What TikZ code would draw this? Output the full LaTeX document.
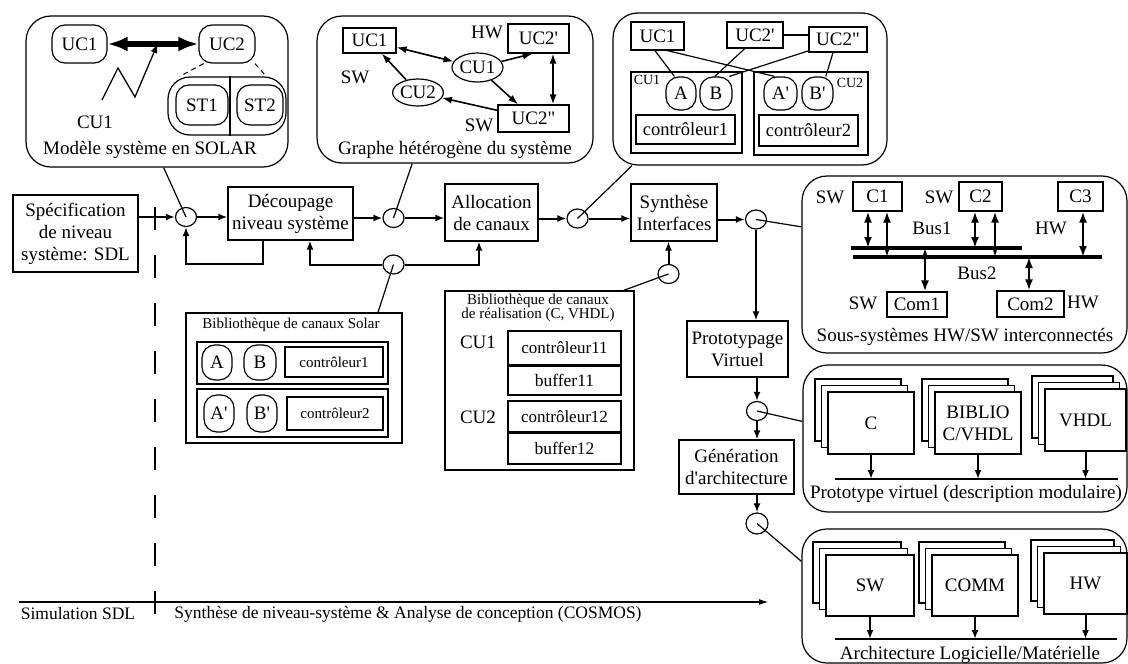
\documentclass[tikz,border=0pt]{standalone}
\usepackage{fontspec}
\setmainfont{Liberation Serif}[Ligatures=TeXOff]
\usetikzlibrary{arrows.meta,shapes.geometric,calc}
\tikzset{
  boite/.style={draw, inner sep=0pt, align=center},
  bulle/.style={draw, rounded corners=13pt, inner sep=0pt},
  rond/.style={draw, ellipse, inner sep=0pt, minimum width=21pt, minimum height=19pt},
  cadre/.style={draw, rounded corners=25pt, inner sep=0pt},
  fleche/.style={line width=2pt, ->},
  fl/.style={line width=1.6pt, >={Latex[length=10pt,width=7pt]}},
  dfl/.style={line width=2pt, >={Latex[length=11pt,width=8pt]}, <->},
  bus/.style={line width=3.5pt},
  petit/.style={font=\fontsize{15}{13}\selectfont},
  mini/.style={font=\fontsize{14}{14}\selectfont}
}
\begin{document}
\begin{tikzpicture}[x=1pt, y=-1pt, line width=1.2pt, >={Latex[length=9pt,width=7pt]},
  font=\fontsize{19}{22}\selectfont]
\useasboundingbox (0,0) rectangle (1128,664);

% modele SOLAR
\node[cadre, minimum width=262, minimum height=151] (solar) at (157,91.5) {};
\node[bulle, minimum width=55, minimum height=38] (uc1) at (79.5,44) {UC1};
\node[bulle, minimum width=56, minimum height=38] (uc2) at (227,44) {UC2};
\node[draw, rounded corners=22pt, inner sep=0pt, minimum width=118, minimum height=58] (st) at (227,106) {};
\draw ([xshift=3pt]st.north) -- ([xshift=3pt]st.south);
\node[bulle, minimum width=52, minimum height=40] (st1) at (202,105) {ST1};
\node[bulle, minimum width=46, minimum height=40] (st2) at (260,105) {ST2};
\draw[line width=5.5pt, {Latex[length=20pt,width=15pt]}-{Latex[length=20pt,width=15pt]}] (uc1) -- (uc2);
\node (cu1) at (95,122) {CU1};
\coordinate (zz) at (102,100);
\draw[line width=1.3pt, ->] (zz) -- (118,68) -- (135,97) -- ($(uc1.east)!0.55!(uc2.west)$);
\draw[line width=1pt, dash pattern=on 5pt off 4pt] (uc2.-140) -- (st.148) (uc2.-35) -- (st.37);
\node at (150,150) {Modèle système en SOLAR};

% graphe heterogene
\node[cadre, minimum width=276, minimum height=147] (graphe) at (455,89.5) {};
\node[boite, minimum width=53, minimum height=25] (g1) at (369.5,40.5) {UC1};
\node[boite, minimum width=61, minimum height=29] (g2p) at (538.5,38.5) {UC2'};
\node[boite, minimum width=71, minimum height=27] (g2pp) at (533.5,118.5) {UC2"};
\node[draw, ellipse, inner sep=0pt, minimum width=51, minimum height=29] (gcu1) at (477.5,67.5) {CU1};
\node[draw, ellipse, inner sep=0pt, minimum width=50, minimum height=27] (gcu2) at (418,92.5) {CU2};
\node at (487,32) {HW};
\node at (355,77) {SW};
\node at (479,125) {SW};
\draw[fl,<->] (g1) -- (gcu1);
\draw[fl,->] (gcu1) -- (g2p.-111);
\draw[fl,->] (gcu1) -- (g2pp);
\draw[fl,<->] ([xshift=14.5pt]g2p.south) -- ([xshift=14.5pt]g2p.south |- g2pp.north);
\draw[fl,->] (g2pp) -- (gcu2);
\draw[fl,->] (gcu2) -- (g1);
\node at (455,150) {Graphe hétérogène du système};

% allocation des canaux
\node[cadre, minimum width=274, minimum height=152] (canaux) at (750,89) {};
\node[boite, minimum width=53, minimum height=28] (k1) at (657.5,36) {UC1};
\node[boite, minimum width=56, minimum height=26] (k2p) at (755,35) {UC2'};
\node[boite, minimum width=58, minimum height=25] (k2pp) at (838,39.5) {UC2"};
\draw[line width=1.8pt] (k2p) -- (k2p -| k2pp.west);
\node[boite, minimum width=111, minimum height=81] (kcu1) at (686.5,112.5) {};
\node[boite, minimum width=114, minimum height=83] (kcu2) at (811,113.5) {};
\node[mini] at (647,80) {CU1};
\node[mini] at (850,83) {CU2};
\node[bulle, minimum width=30, minimum height=33] (ka) at (681,93.5) {A};
\node[bulle, minimum width=32, minimum height=33] (kb) at (716,93.5) {B};
\node[bulle, minimum width=33, minimum height=33] (kap) at (780.5,93.5) {A'};
\node[bulle, minimum width=31, minimum height=33] (kbp) at (817.5,93.5) {B'};
\node[boite, minimum width=99, minimum height=29, font=\fontsize{18.5}{20}\selectfont] (kc1) at (685.5,129.5) {contrôleur1};
\node[boite, minimum width=99, minimum height=31, font=\fontsize{18.5}{20}\selectfont] (kc2) at (808.5,130.5) {contrôleur2};
\draw (k1.-100) -- (ka.111);
\draw (k1.-56) -- (kap.109.5);
\draw (k2p.-127.6) -- (kb.94);
\draw (k2pp.-159.4) -- (kb.52.8);
\draw (k2pp.-111.8) -- (kbp.64);

% flot de conception
\node[boite, minimum width=125, minimum height=77] (spec) at (75.5,233.5) {Spécification\\de niveau\\système: SDL};
\node[boite, minimum width=125, minimum height=53] (decoup) at (290.5,213.5) {Découpage\\niveau système};
\node[boite, minimum width=93, minimum height=57] (alloc) at (491.5,212.5) {Allocation\\de canaux};
\node[boite, minimum width=86, minimum height=57] (synth) at (674,212.5) {Synthèse\\Interfaces};
\node[boite, minimum width=101, minimum height=56] (proto) at (737.5,349) {Prototypage\\Virtuel};
\node[boite, minimum width=115, minimum height=54] (gen) at (736.5,467) {Génération\\d'architecture};
\node[rond] (r1) at (186,217) {};
\node[rond] (r2) at (393.5,218) {};
\node[rond] (r3) at (577.5,218.5) {};
\node[rond] (r4) at (756,219.5) {};
\node[rond] (r5) at (393.5,264.5) {};
\node[rond] (r6) at (668.5,274) {};
\node[rond] (r7) at (757,411) {};
\node[rond, minimum width=22pt, minimum height=21pt] (r8) at (757,523.5) {};
\draw[fleche] (spec.east |- r1) -- (r1);
\draw[fleche] (r1) -- (r1 -| decoup.west);
\draw[fleche] ([xshift=-27.5pt]decoup.south) -- ++(0,23) -| (r1.south);
\draw[fleche] (decoup.east |- r2) -- (r2);
\draw[fleche] (r2) -- (r2 -| alloc.west);
\draw[fleche] (r5) -| ([xshift=19.5pt]decoup.south);
\draw[fleche] (r5) -| ([xshift=-12.5pt]alloc.south);
\draw[fleche] (alloc.east |- r3) -- (r3);
\draw[fleche] (r3) -- (r3 -| synth.west);
\draw[fleche] (synth.east |- r4) -- (r4);
\draw[fleche] (r6) -- (r6 |- synth.south);
\draw[fleche] (r4) -- (r4 |- proto.north);
\draw[fleche] (proto.south -| r7) -- (r7);
\draw[fleche] (r7) -- (r7 |- gen.north);
\draw[fleche] (gen.south -| r8) -- (r8);

% bibliotheque Solar
\node[boite, minimum width=216, minimum height=130] (libsolar) at (294,378) {};
\node[petit] at (291,325) {Bibliothèque de canaux Solar};
\node[boite, minimum width=191, minimum height=42] (ls1) at (292.5,363) {};
\node[boite, minimum width=191, minimum height=48] (ls2) at (292.5,413) {};
\node[bulle, minimum width=30, minimum height=35] (la) at (217,362.5) {A};
\node[bulle, minimum width=32, minimum height=35] (lb) at (260,362.5) {B};
\node[boite, petit, minimum width=98, minimum height=30] (lc1) at (334,362) {contrôleur1};
\node[bulle, minimum width=30, minimum height=37] (lap) at (219,413.5) {A'};
\node[bulle, minimum width=30, minimum height=37] (lbp) at (262,413.5) {B'};
\node[boite, petit, minimum width=96, minimum height=33] (lc2) at (335,413.5) {contrôleur2};

% bibliotheque de realisation
\node[boite, minimum width=189, minimum height=179] (libreal) at (539.5,380.5) {};
\node[petit, align=center] at (538,308) {Bibliothèque de canaux\\de réalisation (C, VHDL)};
\node at (478,342) {CU1};
\node at (478,417) {CU2};
\node[boite, minimum width=113, minimum height=34, font=\fontsize{17}{20}\selectfont] (rc11) at (564.5,348) {contrôleur11};
\node[boite, minimum width=113, minimum height=30, font=\fontsize{17.5}{20}\selectfont] (rb11) at (564.5,380) {buffer11};
\node[boite, minimum width=113, minimum height=31, font=\fontsize{17}{20}\selectfont] (rc12) at (564.5,416.5) {contrôleur12};
\node[boite, minimum width=113, minimum height=32, font=\fontsize{17.5}{20}\selectfont] (rb12) at (564.5,448) {buffer12};
\draw[line width=2pt] (rc11.south west) -- (rc11.south east);
\draw[line width=2pt] (rc12.south west) -- (rc12.south east);

% sous-systemes
\node[cadre, minimum width=325, minimum height=177] (soussys) at (964.5,264.5) {};
\node[boite, minimum width=49, minimum height=29] (sc1) at (877.5,196.5) {C1};
\node[boite, minimum width=43, minimum height=29] (sc2) at (980.5,196.5) {C2};
\node[boite, minimum width=45, minimum height=29] (sc3) at (1080.5,196.5) {C3};
\node[boite, minimum width=60, minimum height=25] (com1) at (917,304.5) {Com1};
\node[boite, minimum width=67, minimum height=26] (com2) at (1030.5,304) {Com2};
\node at (830,197) {SW};
\node at (939,197) {SW};
\node at (1051,228) {HW};
\node at (863,303) {SW};
\node at (1083,302) {HW};
\node at (932,228) {Bus1};
\node at (977,273) {Bus2};
\coordinate (b1a) at (851,248); \coordinate (b1b) at (1022,248);
\coordinate (b2a) at (853,257); \coordinate (b2b) at (1102,257);
\draw[bus] (b1a) -- (b1b);
\draw[bus] (b2a) -- (b2b);
\foreach \n/\dx/\b in {sc1/-9.5/b1a, sc1/9.5/b2a, sc2/-5.5/b1a, sc2/14.5/b2a, sc3/2.5/b2a}
  \draw[dfl] ([xshift=\dx]\n.south) -- ([xshift=\dx]\n.south |- \b);
\draw[dfl] ([xshift=8pt]com1.north) -- ([xshift=8pt]com1.north |- b1a);
\draw[dfl] ([xshift=-1.5pt]com2.north) -- ([xshift=-1.5pt]com2.north |- b2a);
\node at (965,337) {Sous-systèmes HW/SW interconnectés};

% prototype virtuel
\node[cadre, minimum width=324, minimum height=147] (proto5) at (965,438.5) {};
\foreach \nm/\xx/\yy/\w/\txt in {pc/828/392/86/C, pb/935/392/86/{BIBLIO\\C/VHDL}, pv/1045/389/81/VHDL} {
  \foreach \k in {2,1}
    \draw[fill=white] (\xx-6.5*\k,\yy-6.5*\k) rectangle ++(\w,62);
  \node[boite, fill=white, minimum width=\w, minimum height=62] (\nm) at (\xx+\w/2,\yy+31) {\txt};
}
\coordinate (p5a) at (835,479); \coordinate (p5b) at (1118,479);
\draw[line width=2.5pt] (p5a) -- (p5b);
\foreach \nm in {pc,pb,pv}
  \draw[fleche] (\nm.south) -- (\nm.south |- p5a);
\node at (966,494) {Prototype virtuel (description modulaire)};

% architecture
\node[cadre, minimum width=325, minimum height=134] (archi) at (964.5,596) {};
\foreach \nm/\xx/\yy/\w/\txt in {asw/826/555/88/SW, acom/932/555/86/COMM, ahw/1044/553/83/HW} {
  \foreach \k in {2,1}
    \draw[fill=white] (\xx-6.5*\k,\yy-6.5*\k) rectangle ++(\w,61);
  \node[boite, fill=white, minimum width=\w, minimum height=61] (\nm) at (\xx+\w/2,\yy+30.5) {\txt};
}
\coordinate (a6a) at (835,639); \coordinate (a6b) at (1117,639);
\draw[line width=2.5pt] (a6a) -- (a6b);
\foreach \nm in {asw,acom,ahw}
  \draw[fleche] (\nm.south) -- (\nm.south |- a6a);
\node at (970,655) {Architecture Logicielle/Matérielle};

% liens vers les cadres
\draw (solar.-85.5) -- (r1.center);
\draw (graphe.-120) -- (r2.center);
\draw (canaux.-147.7) -- (r3.center);
\draw (r4.center) -- (soussys.167);
\draw (r5.center) -- (libsolar.38.7);
\draw (r6.center) -- (libreal.47.3);
\draw (r7.center) -- (proto5.174);
\draw (r8.center) -- (archi.168.2);

% axe des outils
\coordinate (t0) at (19,602); \coordinate (t1) at (769,602);
\draw[line width=1.8pt, -{Latex[length=10pt,width=6pt]}] (t0) -- (t1);
\draw[dash pattern=on 23pt off 25pt] (155,207) -- (155,618);
\node[font=\fontsize{17.5}{20}\selectfont] at (78,614) {Simulation SDL};
\node[font=\fontsize{17.5}{20}\selectfont] at (408,614) {Synthèse de niveau-système \& Analyse de conception (COSMOS)};
\end{tikzpicture}
\end{document}
